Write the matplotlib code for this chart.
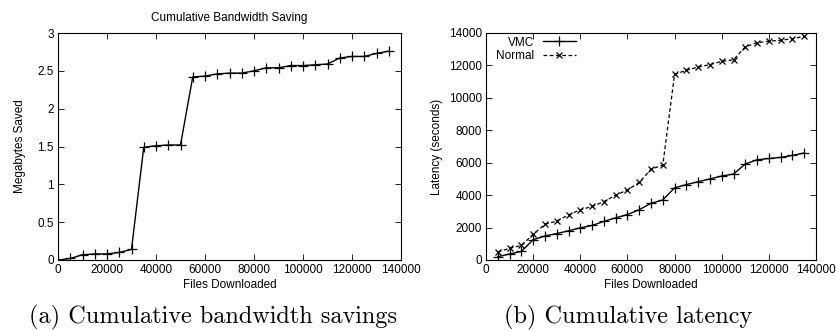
import numpy as np
import matplotlib.pyplot as plt

# Data
files_a = np.arange(0, 140000, 5000)
saved_mb = [0, 0.02, 0.07, 0.08, 0.08, 0.1, 0.14, 1.49, 1.51, 1.52, 1.52,
            2.42, 2.43, 2.46, 2.47, 2.47, 2.5, 2.54, 2.54, 2.57, 2.57,
            2.58, 2.59, 2.67, 2.69, 2.69, 2.73, 2.76]

files_b = np.arange(5000, 140000, 5000)
vmc = [200, 370, 530, 1250, 1480, 1630, 1800, 1980, 2130, 2380, 2600,
       2800, 3100, 3500, 3700, 4450, 4650, 4830, 5000, 5180, 5300,
       5920, 6180, 6260, 6330, 6450, 6600]
normal = [500, 720, 900, 1580, 2200, 2400, 2780, 3100, 3300, 3600, 4000,
          4320, 4780, 5600, 5850, 11450, 11700, 11900, 12050, 12250, 12350,
          13150, 13400, 13500, 13550, 13650, 13800]

xticks = [0, 20000, 40000, 60000, 80000, 100000, 120000, 140000]

plt.rcParams['font.family'] = 'Liberation Sans'
plt.rcParams['font.size'] = 8.5

fig = plt.figure(figsize=(8.36, 3.30), dpi=100)
W, H = 836, 330

def style(ax):
    ax.tick_params(direction='in', top=True, right=True, length=4, width=0.6,
                   labelsize=8.5, pad=3)
    for s in ax.spines.values():
        s.set_linewidth(0.8)

# (a) bandwidth savings
ax1 = fig.add_axes([58 / W, 1 - 260 / H, (401 - 58) / W, (260 - 33) / H])
ax1.plot(files_a, saved_mb, color='black', lw=1.0, marker='+', ms=6.5, mew=0.9)
ax1.set_xlim(0, 140000)
ax1.set_ylim(0, 3)
ax1.set_xticks(xticks)
ax1.set_yticks([0, 0.5, 1, 1.5, 2, 2.5, 3])
ax1.set_yticklabels(['0', '0.5', '1', '1.5', '2', '2.5', '3'])
ax1.set_title('Cumulative Bandwidth Saving', fontsize=8.5, pad=9)
ax1.set_xlabel('Files Downloaded', fontsize=8.5, labelpad=2)
ax1.set_ylabel('Megabytes Saved', fontsize=8.5, labelpad=8)
style(ax1)

# (b) latency
ax2 = fig.add_axes([486 / W, 1 - 260 / H, (816 - 486) / W, (260 - 33) / H])
ax2.plot(files_b, vmc, color='black', lw=1.0, marker='+', ms=6.5, mew=0.9,
         label='VMC')
ax2.plot(files_b, normal, color='black', lw=0.9, ls=(0, (3, 2)), marker='x',
         ms=5, mew=0.9, label='Normal')
ax2.set_xlim(0, 140000)
ax2.set_ylim(0, 14000)
ax2.set_xticks(xticks)
ax2.set_yticks(np.arange(0, 14001, 2000))
ax2.set_xlabel('Files Downloaded', fontsize=8.5, labelpad=2)
ax2.set_ylabel('Latency (seconds)', fontsize=8.5, labelpad=4)
ax2.legend(loc='upper left', bbox_to_anchor=(0.02, 1.0), frameon=False,
           markerfirst=False, handlelength=2.8, handletextpad=0.7,
           borderaxespad=0.1, labelspacing=0.1, fontsize=8.5, borderpad=0.2)
style(ax2)

# captions
fig.text(213 / W, 1 - 317 / H, '(a) Cumulative bandwidth savings',
         family='cmr10', fontsize=17.5, ha='center', va='center')
fig.text(628 / W, 1 - 317 / H, '(b) Cumulative latency',
         family='cmr10', fontsize=17.5, ha='center', va='center')

fig.savefig('out.png', dpi=100)
